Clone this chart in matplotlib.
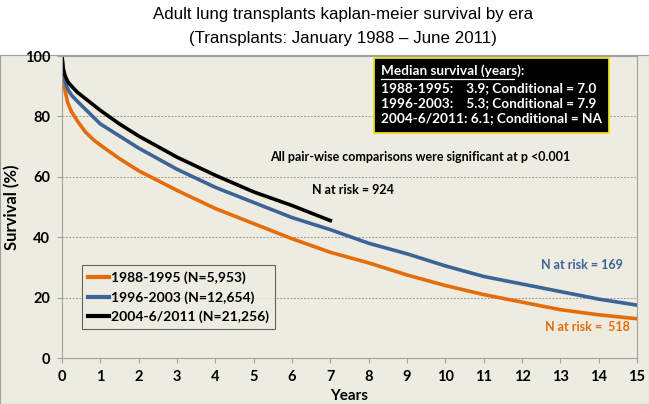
import matplotlib
matplotlib.use("Agg")
import matplotlib.pyplot as plt
from matplotlib.patches import Rectangle

# survival curves (years, %)
years_8895 = [0, 0.03, 0.08, 0.15, 0.25, 0.4, 0.6, 0.8, 1, 1.5, 2, 3, 4, 5, 6, 7, 8, 9, 10, 11, 12, 13, 14, 15]
surv_8895 = [100, 93, 88.5, 84.5, 81.5, 78.5, 75, 72.5, 70.5, 66, 62, 55.5, 49.5, 44.5, 39.5, 35, 31.5, 27.5, 24, 21, 18.5, 16, 14.3, 13]

years_9603 = [0, 0.03, 0.08, 0.15, 0.25, 0.4, 0.6, 0.8, 1, 1.5, 2, 3, 4, 5, 6, 7, 8, 9, 10, 11, 12, 13, 14, 15]
surv_9603 = [100, 95, 91.5, 89, 87, 85, 82.5, 80, 77.5, 73.5, 69.5, 62.5, 56.5, 51.5, 46.5, 42.5, 38, 34.5, 30.5, 27, 24.5, 22, 19.5, 17.5]

years_0411 = [0, 0.03, 0.08, 0.15, 0.25, 0.4, 0.6, 0.8, 1, 1.5, 2, 3, 4, 5, 6, 7]
surv_0411 = [100, 96, 93.5, 91.5, 90, 88, 86, 84, 82, 77.5, 73.5, 66.5, 60.5, 55, 50.5, 45.5]

labels = ["1988-1995 (N=5,953)", "1996-2003 (N=12,654)", "2004-6/2011 (N=21,256)"]
colors = ["#E46C0A", "#3B6497", "#000000"]

median_lines = ["1988-1995:    3.9; Conditional = 7.0",
                "1996-2003:    5.3; Conditional = 7.9",
                "2004-6/2011: 6.1; Conditional = NA"]

bold_font = ["Lato", "DejaVu Sans"]
beige = "#EEEBE0"
W, H = 649, 404

fig = plt.figure(figsize=(6.49, 4.04), dpi=100)
fig.patch.set_facecolor("white")
bg = Rectangle((0, 0), 1, (H - 55) / H, transform=fig.transFigure,
               facecolor=beige, edgecolor="#A0A0A0", lw=0.8, zorder=-10)
fig.add_artist(bg)

ax = fig.add_axes([62 / W, (H - 358) / H, 575 / W, 302 / H])
ax.set_facecolor(beige)

ax.plot(years_8895, surv_8895, color=colors[0], lw=2.6, label=labels[0])
ax.plot(years_9603, surv_9603, color=colors[1], lw=2.6, label=labels[1])
ax.plot(years_0411, surv_0411, color=colors[2], lw=2.6, label=labels[2])

ax.set_xlim(0, 15)
ax.set_ylim(0, 100)
ax.set_xticks(range(0, 16))
ax.set_yticks(range(0, 101, 20))
for y in [20, 40, 60, 80]:
    ax.axhline(y, color="#9A9A9A", lw=0.7, ls=(0, (2, 1.5)), zorder=0)
for s in ax.spines.values():
    s.set_color("#A0A0A0")
ax.tick_params(axis="both", colors="#A0A0A0", length=3.5, labelcolor="black")
ax.tick_params(axis="x", pad=5)
ax.tick_params(axis="y", pad=5)
for t in ax.get_xticklabels() + ax.get_yticklabels():
    t.set_fontfamily(bold_font)
    t.set_fontweight("bold")
    t.set_fontsize(10.5)

ax.set_xlabel("Years", fontfamily=bold_font, fontweight="bold", fontsize=11, labelpad=4)
ax.set_ylabel("Survival (%)", fontfamily=bold_font, fontweight="bold", fontsize=12, labelpad=3)

leg = ax.legend(loc="upper left", bbox_to_anchor=(20 / 575, (358 - 265) / 302),
                borderaxespad=0, frameon=True, fancybox=False, handlelength=1.5,
                handletextpad=0.15, borderpad=0.45, labelspacing=0.5,
                prop={"family": bold_font, "weight": "bold", "size": 10})
leg.get_frame().set_edgecolor("#404040")
leg.get_frame().set_facecolor(beige)
leg.get_frame().set_linewidth(0.8)
for h in leg.get_lines():
    h.set_linewidth(3)

fig.text(343 / W, 1 - 15 / H, "Adult lung transplants kaplan-meier survival by era",
         ha="center", va="center", fontsize=12.2, fontfamily="Liberation Sans")
fig.text(343 / W, 1 - 38 / H, "(Transplants: January 1988 \u2013 June 2011)",
         ha="center", va="center", fontsize=12.2, fontfamily="Liberation Sans")

# median survival box
box = Rectangle((374 / W, 1 - 133 / H), 235 / W, 75 / H, transform=fig.transFigure,
                facecolor="black", edgecolor="#E8E020", lw=1.3, zorder=5)
fig.add_artist(box)
txt_kw = dict(color="white", fontfamily=bold_font, fontweight="bold", fontsize=9.8,
              ha="left", va="center", zorder=6)
fig.text(381 / W, 1 - 71 / H, "Median survival (years):", **txt_kw)
for i, line in enumerate(median_lines):
    fig.text(381 / W, 1 - (88.5 + 14.8 * i) / H, line, **txt_kw)
fig.add_artist(plt.Line2D([381 / W, 514 / W], [1 - 78.5 / H, 1 - 78.5 / H],
                          transform=fig.transFigure, color="white", lw=0.9, zorder=6))

fig.text(420 / W, 1 - 157 / H, "All pair-wise comparisons were significant at p <0.001",
         ha="center", va="center", fontfamily=bold_font, fontweight="bold", fontsize=9)
fig.text(312 / W, 1 - 190 / H, "N at risk = 924", ha="left", va="center",
         fontfamily=bold_font, fontweight="bold", fontsize=9, color="black")
fig.text(623 / W, 1 - 265 / H, "N at risk = 169", ha="right", va="center",
         fontfamily=bold_font, fontweight="bold", fontsize=9, color=colors[1])
fig.text(630 / W, 1 - 327 / H, "N at risk =  518", ha="right", va="center",
         fontfamily=bold_font, fontweight="bold", fontsize=9, color=colors[0])

fig.savefig("out.png", dpi=100)
